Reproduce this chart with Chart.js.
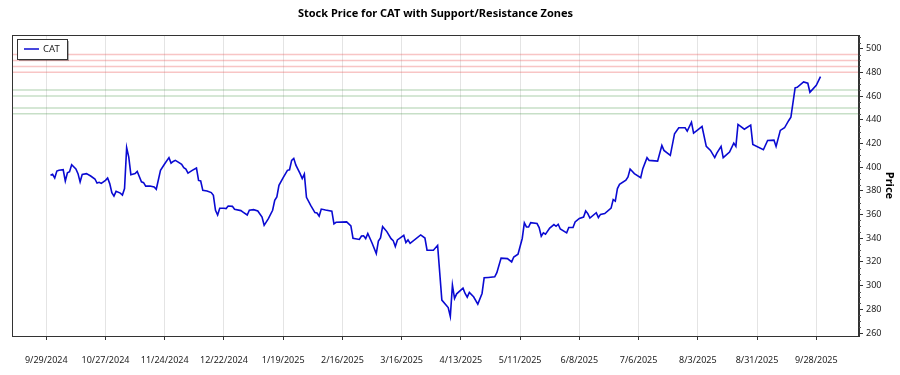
<!DOCTYPE html>
<html>
<head>
<meta charset="utf-8">
<title>CAT support / resistance</title>
<script src="https://cdn.jsdelivr.net/npm/chart.js@4.4.1/dist/chart.umd.min.js"></script>
<style>
  html, body { margin: 0; padding: 0; background: #fff; }
  #wrap { width: 900px; height: 375px; }
</style>
</head>
<body>
<div id="wrap"><canvas id="priceChart" width="900" height="375"></canvas></div>
<script>
// Closing prices
const dates = [
    '2024-10-01', '2024-10-02', '2024-10-03', '2024-10-04', '2024-10-05', '2024-10-07', '2024-10-08', '2024-10-09',
    '2024-10-10', '2024-10-11', '2024-10-13', '2024-10-14', '2024-10-15', '2024-10-16', '2024-10-18', '2024-10-20',
    '2024-10-22', '2024-10-23', '2024-10-24', '2024-10-25', '2024-10-27', '2024-10-28', '2024-10-29', '2024-10-30',
    '2024-10-31', '2024-11-01', '2024-11-03', '2024-11-04', '2024-11-05', '2024-11-06', '2024-11-07', '2024-11-08',
    '2024-11-10', '2024-11-11', '2024-11-13', '2024-11-14', '2024-11-15', '2024-11-17', '2024-11-19', '2024-11-20',
    '2024-11-22', '2024-11-24', '2024-11-26', '2024-11-27', '2024-11-28', '2024-11-29', '2024-11-30', '2024-12-02',
    '2024-12-03', '2024-12-04', '2024-12-05', '2024-12-07', '2024-12-09', '2024-12-10', '2024-12-11', '2024-12-12',
    '2024-12-14', '2024-12-16', '2024-12-17', '2024-12-18', '2024-12-19', '2024-12-20', '2024-12-22', '2024-12-23',
    '2024-12-24', '2024-12-26', '2024-12-27', '2024-12-30', '2024-12-31', '2025-01-02', '2025-01-03', '2025-01-05',
    '2025-01-07', '2025-01-09', '2025-01-10', '2025-01-12', '2025-01-14', '2025-01-15', '2025-01-16', '2025-01-17',
    '2025-01-19', '2025-01-21', '2025-01-22', '2025-01-23', '2025-01-24', '2025-01-25', '2025-01-27', '2025-01-28',
    '2025-01-29', '2025-01-30', '2025-02-01', '2025-02-03', '2025-02-04', '2025-02-05', '2025-02-06', '2025-02-08',
    '2025-02-11', '2025-02-12', '2025-02-13', '2025-02-18', '2025-02-20', '2025-02-21', '2025-02-24', '2025-02-25',
    '2025-02-26', '2025-02-27', '2025-02-28', '2025-03-02', '2025-03-04', '2025-03-05', '2025-03-06', '2025-03-07',
    '2025-03-09', '2025-03-11', '2025-03-12', '2025-03-13', '2025-03-14', '2025-03-17', '2025-03-18', '2025-03-19',
    '2025-03-20', '2025-03-25', '2025-03-27', '2025-03-28', '2025-03-31', '2025-04-02', '2025-04-04', '2025-04-07',
    '2025-04-08', '2025-04-09', '2025-04-10', '2025-04-11', '2025-04-14', '2025-04-15', '2025-04-16', '2025-04-17',
    '2025-04-19', '2025-04-21', '2025-04-23', '2025-04-24', '2025-04-26', '2025-04-29', '2025-04-30', '2025-05-02',
    '2025-05-05', '2025-05-07', '2025-05-08', '2025-05-10', '2025-05-12', '2025-05-13', '2025-05-14', '2025-05-15',
    '2025-05-16', '2025-05-19', '2025-05-20', '2025-05-21', '2025-05-22', '2025-05-23', '2025-05-25', '2025-05-27',
    '2025-05-28', '2025-05-29', '2025-05-30', '2025-06-02', '2025-06-03', '2025-06-05', '2025-06-06', '2025-06-08',
    '2025-06-10', '2025-06-11', '2025-06-12', '2025-06-13', '2025-06-16', '2025-06-17', '2025-06-18', '2025-06-20',
    '2025-06-23', '2025-06-24', '2025-06-25', '2025-06-26', '2025-06-27', '2025-06-30', '2025-07-01', '2025-07-02',
    '2025-07-04', '2025-07-07', '2025-07-08', '2025-07-10', '2025-07-11', '2025-07-15', '2025-07-17', '2025-07-18',
    '2025-07-21', '2025-07-23', '2025-07-25', '2025-07-28', '2025-07-29', '2025-07-31', '2025-08-01', '2025-08-03',
    '2025-08-05', '2025-08-07', '2025-08-09', '2025-08-11', '2025-08-12', '2025-08-14', '2025-08-15', '2025-08-18',
    '2025-08-20', '2025-08-21', '2025-08-22', '2025-08-25', '2025-08-28', '2025-08-29', '2025-09-03', '2025-09-05',
    '2025-09-08', '2025-09-09', '2025-09-11', '2025-09-13', '2025-09-15', '2025-09-16', '2025-09-18', '2025-09-19',
    '2025-09-22', '2025-09-24', '2025-09-25', '2025-09-28', '2025-09-30'
];

const prices = [
    393.1, 393.9, 390.8, 396.7, 397.3, 397.8, 388.3, 395.3,
    396.2, 402.0, 398.4, 394.5, 387.6, 393.9, 394.5, 392.5,
    390.0, 386.6, 387.2, 386.3, 388.8, 390.8, 386.1, 378.5,
    375.6, 379.6, 378.1, 376.5, 381.9, 416.4, 408.5, 393.6,
    394.5, 396.4, 387.6, 386.9, 384.0, 384.0, 383.2, 381.3,
    397.3, 402.9, 408.0, 403.4, 404.8, 405.7, 404.6, 402.3,
    399.5, 398.4, 395.0, 397.3, 399.2, 388.8, 388.3, 380.4,
    379.8, 378.5, 376.2, 363.6, 359.6, 365.3, 365.3, 365.0,
    367.2, 366.9, 364.4, 363.3, 362.1, 359.6, 363.6, 364.1,
    363.0, 357.9, 350.9, 356.6, 363.6, 372.0, 374.8, 384.6,
    391.1, 397.3, 397.8, 405.7, 407.4, 401.7, 394.5, 390.3,
    394.1, 374.5, 367.8, 361.6, 361.3, 358.7, 364.6, 363.8,
    362.8, 352.2, 353.5, 353.8, 350.5, 340.0, 339.0, 341.9,
    342.0, 339.7, 344.0, 336.0, 327.1, 337.6, 340.3, 349.8,
    345.6, 339.6, 338.0, 333.0, 338.6, 342.4, 336.4, 338.6,
    335.7, 342.8, 340.2, 329.9, 329.9, 334.0, 287.8, 281.5,
    274.0, 300.4, 289.2, 293.1, 297.9, 293.4, 290.3, 294.3,
    290.6, 284.4, 293.4, 306.6, 306.9, 307.4, 311.0, 323.2,
    322.8, 320.0, 324.2, 326.5, 339.8, 352.9, 349.5, 349.5,
    353.2, 352.4, 349.0, 341.7, 344.5, 343.4, 348.5, 351.5,
    350.1, 351.8, 347.8, 344.5, 349.0, 349.0, 353.7, 356.7,
    357.9, 363.0, 360.8, 357.0, 361.5, 357.5, 360.1, 360.8,
    365.4, 372.6, 371.3, 381.9, 385.5, 388.9, 391.7, 398.4,
    394.5, 391.1, 398.7, 408.0, 405.7, 405.1, 418.3, 414.1,
    409.9, 428.2, 433.2, 433.2, 430.4, 437.9, 428.7, 431.5,
    434.3, 417.5, 414.1, 408.0, 411.8, 417.5, 408.0, 412.7,
    420.3, 417.5, 436.0, 432.0, 435.4, 419.2, 414.7, 422.5,
    422.8, 417.5, 431.0, 433.2, 439.4, 442.1, 466.9, 467.4,
    471.9, 470.8, 463.2, 469.1, 476.4
];

// Zone levels drawn as horizontal lines
const resistanceLevels = [480, 485, 490, 495];
const supportLevels = [445, 450, 460, 465];

// Axis ticks
const xTickDates = [
    '2024-09-29', '2024-10-27', '2024-11-24', '2024-12-22', '2025-01-19', '2025-02-16', '2025-03-16',
    '2025-04-13', '2025-05-11', '2025-06-08', '2025-07-06', '2025-08-03', '2025-08-31', '2025-09-28'
];
const yTicks = [260, 280, 300, 320, 340, 360, 380, 400, 420, 440, 460, 480, 500];
const yMinorStep = 5;

const toMs = s => Date.parse(s + 'T00:00:00Z');
function fmtDate(ms) {
    const d = new Date(ms);
    return (d.getUTCMonth() + 1) + '/' + d.getUTCDate() + '/' + d.getUTCFullYear();
}

const points = dates.map((d, i) => ({ x: toMs(d), y: prices[i] }));
const first = points[0].x;
const last = points[points.length - 1].x;
const pad = (last - first) * 0.05;

const FONT = "'Noto Sans', 'DejaVu Sans', sans-serif";
Chart.defaults.font.family = FONT;
Chart.defaults.color = '#222';

// horizontal support / resistance lines
const zonesPlugin = {
    id: 'zones',
    beforeDatasetsDraw(chart) {
        const { ctx, chartArea, scales } = chart;
        ctx.save();
        ctx.lineWidth = 1.5;
        const drawLevel = (v, color) => {
            const y = scales.y.getPixelForValue(v);
            ctx.strokeStyle = color;
            ctx.beginPath();
            ctx.moveTo(chartArea.left, y);
            ctx.lineTo(chartArea.right, y);
            ctx.stroke();
        };
        resistanceLevels.forEach(v => drawLevel(v, 'rgba(235, 90, 90, 0.35)'));
        supportLevels.forEach(v => drawLevel(v, 'rgba(70, 150, 70, 0.3)'));
        ctx.restore();
    }
};

// frame, minor ticks, title and legend box
const decorPlugin = {
    id: 'decor',
    afterDraw(chart) {
        const { ctx, chartArea, scales } = chart;
        ctx.save();
        ctx.strokeStyle = '#333';
        ctx.lineWidth = 1;
        ctx.strokeRect(chartArea.left + 0.5, chartArea.top + 0.5,
            chartArea.right - chartArea.left - 1, chartArea.bottom - chartArea.top);

        // minor ticks on the price axis
        ctx.strokeStyle = '#555';
        ctx.beginPath();
        for (let v = yTicks[0] - yMinorStep; v <= scales.y.max; v += yMinorStep) {
            if (v < scales.y.min || yTicks.includes(v)) continue;
            const y = Math.round(scales.y.getPixelForValue(v)) + 0.5;
            ctx.moveTo(chartArea.right, y);
            ctx.lineTo(chartArea.right + 2, y);
        }
        ctx.stroke();

        ctx.fillStyle = '#000';
        ctx.font = 'bold 11px ' + FONT;
        ctx.textAlign = 'center';
        ctx.textBaseline = 'middle';
        ctx.fillText('Stock Price for CAT with Support/Resistance Zones',
            (chartArea.left + chartArea.right) / 2, 14);

        // legend
        const lx = chartArea.left + 5, ly = chartArea.top + 4, lw = 50, lh = 20;
        ctx.fillStyle = 'rgba(0,0,0,0.3)';
        ctx.fillRect(lx + 2, ly + 2, lw, lh);
        ctx.fillStyle = '#fff';
        ctx.fillRect(lx, ly, lw, lh);
        ctx.strokeStyle = '#333';
        ctx.strokeRect(lx + 0.5, ly + 0.5, lw, lh);
        const ds = chart.data.datasets[0];
        ctx.strokeStyle = ds.borderColor;
        ctx.lineWidth = 1.5;
        ctx.beginPath();
        ctx.moveTo(lx + 7, ly + 10);
        ctx.lineTo(lx + 22, ly + 10);
        ctx.stroke();
        ctx.fillStyle = '#222';
        ctx.font = '9.5px ' + FONT;
        ctx.textAlign = 'left';
        ctx.fillText(ds.label, lx + 26, ly + 10.5);
        ctx.restore();
    }
};

new Chart(document.getElementById('priceChart'), {
    type: 'line',
    data: {
        datasets: [{
            label: 'CAT',
            data: points,
            borderColor: '#0a0ad2',
            borderWidth: 1.6,
            pointRadius: 0,
            tension: 0,
            fill: false
        }]
    },
    options: {
        responsive: false,
        animation: false,
        devicePixelRatio: 1,
        layout: { padding: { top: 35, left: 12, right: 0, bottom: 0 } },
        plugins: {
            legend: { display: false },
            title: { display: false },
            tooltip: { enabled: false }
        },
        scales: {
            x: {
                type: 'linear',
                min: first - pad,
                max: last + pad,
                afterBuildTicks: scale => {
                    scale.ticks = xTickDates.map(d => ({ value: toMs(d) }));
                },
                afterFit: scale => { scale.height = 39; },
                ticks: {
                    autoSkip: false,
                    maxRotation: 0,
                    padding: 15,
                    font: { size: 9 },
                    color: '#222',
                    callback: v => fmtDate(v)
                },
                grid: { color: '#e4e4e4', tickColor: '#333', tickLength: 4 },
                border: { color: '#333' }
            },
            y: {
                position: 'right',
                min: 257.5,
                max: 511.5,
                afterBuildTicks: scale => {
                    scale.ticks = yTicks.map(v => ({ value: v }));
                },
                afterFit: scale => { scale.width = 41; },
                ticks: { padding: 3, font: { size: 9 }, color: '#222' },
                grid: { drawOnChartArea: false, tickColor: '#333', tickLength: 4 },
                border: { color: '#333' },
                title: {
                    display: true,
                    text: 'Price',
                    color: '#000',
                    font: { size: 11, weight: 'bold' },
                    padding: { top: 4, bottom: 4 }
                }
            }
        }
    },
    plugins: [zonesPlugin, decorPlugin]
});
</script>
</body>
</html>
